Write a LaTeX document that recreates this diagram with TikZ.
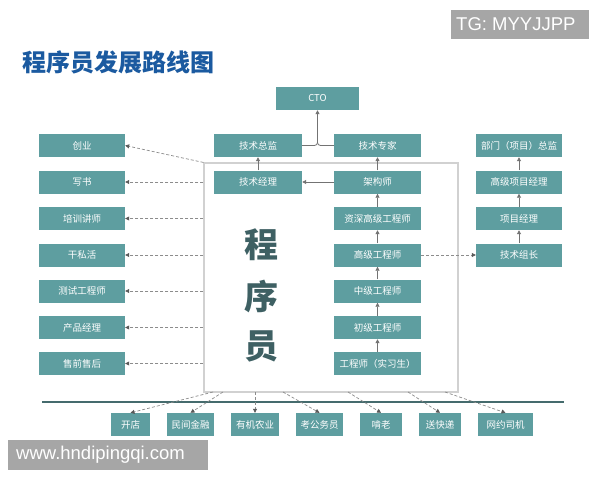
\documentclass[tikz,border=0pt]{standalone}
\usepackage{fontspec}
\setmainfont{Liberation Sans}
\newfontfamily\cjk{Noto Sans CJK SC}
\usetikzlibrary{arrows.meta,positioning,calc}
\definecolor{boxteal}{HTML}{5E9EA0}
\definecolor{bigtxt}{HTML}{3E6063}
\definecolor{titleblue}{HTML}{1B5AA0}
\definecolor{basecol}{HTML}{456B6D}
\definecolor{wmgray}{HTML}{A6A6A6}
\begin{document}
\begin{tikzpicture}[x=1pt,y=-1pt,
  card/.style={fill=boxteal,text=white,inner sep=0pt,minimum height=23pt,
    font=\cjk\fontsize{9.5}{11}\selectfont},
  wl/.style={card,minimum width=86pt},
  wc/.style={card,minimum width=87pt},
  wb/.style={card,minimum height=23pt},
  conn/.style={draw=black!55,line width=0.8pt,-{Triangle[length=4pt,width=4pt]}},
  dconn/.style={draw=black!45,line width=0.7pt,dash pattern=on 3pt off 2pt,
    -{Triangle[length=4pt,width=4pt,color=black!65]}},
  bigch/.style={text=bigtxt,font=\cjk\bfseries\fontsize{34}{36}\selectfont,inner sep=0pt},
  wm/.style={fill=wmgray,inner sep=0pt},
  wmtext/.style={text=white,inner sep=0pt,anchor=west,font=\fontsize{18.5}{20}\selectfont}
]
\useasboundingbox (0,0) rectangle (600,480);
\fill[white] (0,0) rectangle (600,480);

% title and watermarks
\node[text=titleblue,font=\cjk\bfseries\fontsize{24}{26}\selectfont,anchor=west,inner sep=0pt] (title) at (22,62.5) {程序员发展路线图};
\node[wm,minimum width=138pt,minimum height=29pt] (tg) at (520,24.5) {};
\node[wmtext] (tgt) at (456,24.5) {TG: MYYJJPP};
\node[wm,minimum width=200pt,minimum height=30pt] (www) at (108,455) {};
\node[wmtext] (wwwt) at (16,455) {www.hndipingqi.com};

% big box
\node[draw=black!18,line width=1.1pt,minimum width=254pt,minimum height=229pt,inner sep=0pt] (prog) at (331,277.5) {};
\node[bigch] (c1) at (261,245) {程};
\node[bigch] (c2) at (261,296) {序};
\node[bigch] (c3) at (261,346) {员};

% top
\node[card,minimum width=83pt] (cto) at (317.5,98.5) {CTO};
\node[card,minimum width=88pt] (zj) at (258,145.5) {技术总监};
\node[wc] (zx) at (377.5,145.5) {技术专家};
\node[card,minimum width=88pt] (jl) at (258,182) {技术经理};

% centre column
\node[wc] (jg) at (377.5,182) {架构师};
\node[wc] (zs) at (377.5,218.5) {资深高级工程师};
\node[wc] (gj) at (377.5,255) {高级工程师};
\node[wc] (zhj) at (377.5,291) {中级工程师};
\node[wc] (cj) at (377.5,327.5) {初级工程师};
\node[wc] (sx) at (377.5,363.5) {工程师（实习生）};

% left column
\node[wl] (l1) at (82,145.5) {创业};
\node[wl] (l2) at (82,182) {写书};
\node[wl] (l3) at (82,218.5) {培训讲师};
\node[wl] (l4) at (82,255) {干私活};
\node[wl] (l5) at (82,291) {测试工程师};
\node[wl] (l6) at (82,327.5) {产品经理};
\node[wl] (l7) at (82,363.5) {售前售后};

% right column
\node[wl] (r1) at (519,145.5) {部门（项目）总监};
\node[wl] (r2) at (519,182) {高级项目经理};
\node[wl] (r3) at (519,218.5) {项目经理};
\node[wl] (r4) at (519,255) {技术组长};

% base line
\coordinate (bl1) at (42,402);
\coordinate (bl2) at (564,402);
\draw[draw=basecol,line width=2.6pt] (bl1) -- (bl2);

% bottom row
\node[wb,minimum width=39pt] (b1) at (130.5,424.5) {开店};
\node[wb,minimum width=47pt] (b2) at (190.5,424.5) {民间金融};
\node[wb,minimum width=48pt] (b3) at (255,424.5) {有机农业};
\node[wb,minimum width=47pt] (b4) at (319.5,424.5) {考公务员};
\node[wb,minimum width=42pt] (b5) at (381,424.5) {啃老};
\node[wb,minimum width=42pt] (b6) at (440,424.5) {送快递};
\node[wb,minimum width=55pt] (b7) at (505.5,424.5) {网约司机};

% solid connectors
\draw[conn] (sx) -- (cj);
\draw[conn] (cj) -- (zhj);
\draw[conn] (zhj) -- (gj);
\draw[conn] (gj) -- (zs);
\draw[conn] (zs) -- (jg);
\draw[conn] (jg) -- (zx);
\draw[conn] (jg) -- (jl);
\draw[conn] (jl) -- (zj);
\draw[conn] (r4) -- (r3);
\draw[conn] (r3) -- (r2);
\draw[conn] (r2) -- (r1);
\draw[conn,rounded corners=3pt] (zj.east) -| (cto.south);
\draw[draw=black!55,line width=0.8pt,rounded corners=3pt] (zx.west) -| ($(cto.south)+(0,6)$);

% dashed connectors
\draw[dconn] (prog.north west) -- (l1.east);
\draw[dconn] (prog.west |- l2) -- (l2.east);
\draw[dconn] (prog.west |- l3) -- (l3.east);
\draw[dconn] (prog.west |- l4) -- (l4.east);
\draw[dconn] (prog.west |- l5) -- (l5.east);
\draw[dconn] (prog.west |- l6) -- (l6.east);
\draw[dconn] (prog.west |- l7) -- (l7.east);
\draw[dconn] (gj.east) -- (r4.west);

\coordinate (s1) at (213,392);
\coordinate (s2) at (223,392);
\coordinate (s3) at (255,392);
\coordinate (s4) at (283,392);
\coordinate (s5) at (348,392);
\coordinate (s6) at (408,392);
\coordinate (s7) at (445,392);
\draw[dconn] (s1) -- (b1.north);
\draw[dconn] (s2) -- (b2.north);
\draw[dconn] (s3) -- (b3.north);
\draw[dconn] (s4) -- (b4.north);
\draw[dconn] (s5) -- (b5.north);
\draw[dconn] (s6) -- (b6.north);
\draw[dconn] (s7) -- (b7.north);
\end{tikzpicture}
\end{document}
